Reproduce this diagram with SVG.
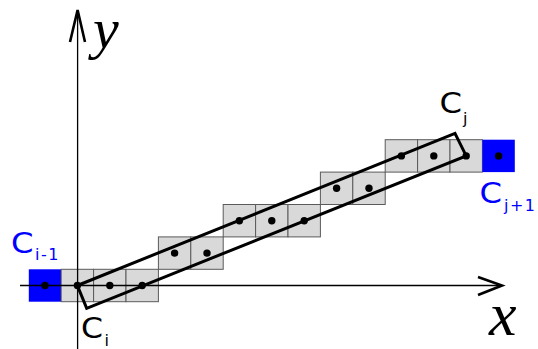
<svg xmlns="http://www.w3.org/2000/svg" width="538" height="349" viewBox="0 0 538 349">
<style>
.cell{fill:#d9d9d9;stroke:#5a5a5a;stroke-width:1}
.blue{fill:#0000ff;stroke:none}
.dot{fill:#000}
.axis{stroke:#000;stroke-width:1.3;fill:none}
.head{stroke:#000;stroke-width:2.6;fill:none;stroke-linejoin:miter}
.lbl{font-family:"DejaVu Sans",sans-serif;font-size:27.5px}
.sub{font-family:"DejaVu Sans",sans-serif;font-size:16px}
.math{font-family:"Liberation Serif","Times New Roman",serif;font-style:italic}
</style>
<rect width="538" height="349" fill="#fff"/>
<g id="cells">
<rect class="blue" x="28.8" y="269.3" width="32.4" height="32.4"/>
<rect class="cell" x="61.2" y="269.3" width="32.4" height="32.4"/>
<rect class="cell" x="93.6" y="269.3" width="32.4" height="32.4"/>
<rect class="cell" x="126" y="269.3" width="32.4" height="32.4"/>
<rect class="cell" x="158.4" y="236.9" width="32.4" height="32.4"/>
<rect class="cell" x="190.8" y="236.9" width="32.4" height="32.4"/>
<rect class="cell" x="223.2" y="204.5" width="32.4" height="32.4"/>
<rect class="cell" x="255.6" y="204.5" width="32.4" height="32.4"/>
<rect class="cell" x="288" y="204.5" width="32.4" height="32.4"/>
<rect class="cell" x="320.4" y="172.1" width="32.4" height="32.4"/>
<rect class="cell" x="352.8" y="172.1" width="32.4" height="32.4"/>
<rect class="cell" x="385.2" y="139.7" width="32.4" height="32.4"/>
<rect class="cell" x="417.6" y="139.7" width="32.4" height="32.4"/>
<rect class="cell" x="450" y="139.7" width="32.4" height="32.4"/>
<rect class="blue" x="482.4" y="139.7" width="32.4" height="32.4"/>
</g>
<g id="axes">
<line class="axis" x1="20" y1="285.5" x2="501" y2="285.5"/>
<polyline class="head" points="478,277 502,285.5 478,295"/>
<line class="axis" x1="77.6" y1="349" x2="77.6" y2="10"/>
<polyline class="head" points="70,42 77.6,10 85,42"/>
</g>
<g id="connectors">
<polygon points="77.4,285.5 455,133.3 466.2,155.9 86.7,308.3" fill="none" stroke="#000" stroke-width="3" stroke-linejoin="miter"/>
</g>
<g id="dots">
<circle class="dot" cx="45" cy="285.5" r="3.7"/>
<circle class="dot" cx="77.4" cy="285.5" r="3.7"/>
<circle class="dot" cx="109.8" cy="285.5" r="3.7"/>
<circle class="dot" cx="142.2" cy="285.5" r="3.7"/>
<circle class="dot" cx="174.6" cy="253.1" r="3.7"/>
<circle class="dot" cx="207" cy="253.1" r="3.7"/>
<circle class="dot" cx="239.4" cy="220.7" r="3.7"/>
<circle class="dot" cx="271.8" cy="220.7" r="3.7"/>
<circle class="dot" cx="304.2" cy="220.7" r="3.7"/>
<circle class="dot" cx="336.6" cy="188.3" r="3.7"/>
<circle class="dot" cx="369" cy="188.3" r="3.7"/>
<circle class="dot" cx="401.4" cy="155.9" r="3.7"/>
<circle class="dot" cx="433.8" cy="155.9" r="3.7"/>
<circle class="dot" cx="466.2" cy="155.9" r="3.7"/>
<circle class="dot" cx="498.6" cy="155.9" r="3.7"/>
</g>
<g id="label-ci-1" fill="#0000ff">
<text class="lbl" x="11" y="253.3" textLength="22.5" lengthAdjust="spacingAndGlyphs">C</text>
<text class="sub" x="35" y="260" letter-spacing="1.5">i-1</text>
</g>
<g id="label-ci" fill="#000">
<text class="lbl" x="81" y="338.3" textLength="22" lengthAdjust="spacingAndGlyphs">C</text>
<text class="sub" x="104.5" y="346">i</text>
</g>
<g id="label-cj" fill="#000">
<text class="lbl" x="439.5" y="113.3" textLength="22.5" lengthAdjust="spacingAndGlyphs">C</text>
<text class="sub" x="463" y="124">j</text>
</g>
<g id="label-cj1" fill="#0000ff">
<text class="lbl" x="479.5" y="203.3" textLength="22.5" lengthAdjust="spacingAndGlyphs">C</text>
<text class="sub" x="504" y="211" letter-spacing="1.5">j+1</text>
</g>
<g id="label-x"><text class="math" x="489" y="335" font-size="62">x</text></g>
<g id="label-y"><text class="math" x="93" y="48" font-size="58">y</text></g>
</svg>
